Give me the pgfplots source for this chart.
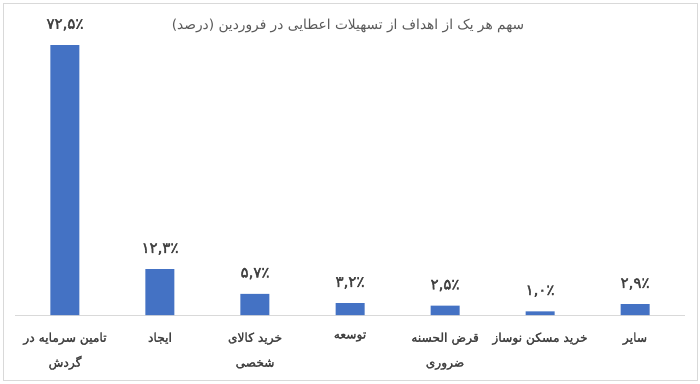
\documentclass[border=0pt]{standalone}
\usepackage{fontspec}
\usepackage{pgfplots}
\usepackage{pgfplotstable}
\pgfplotsset{compat=1.18}
\TeXXeTstate=1
\newfontfamily\arabicfont[Script=Arabic]{DejaVu Sans}
\newfontfamily\arabicbold[Script=Arabic,FakeBold=2]{DejaVu Sans}
\newfontfamily\arabicbolder[Script=Arabic,FakeBold=2.5]{DejaVu Sans}
\definecolor{barblue}{HTML}{4472C4}
\definecolor{txtgray}{HTML}{404040}
\definecolor{titlegray}{HTML}{595959}
\definecolor{bordergray}{HTML}{D9D9D9}
\pgfplotstableread{
x y lab
0 72.5 ۷۲,۵٪
1 12.3 ۱۲,۳٪
2 5.7 ۵,۷٪
3 3.2 ۳,۲٪
4 2.5 ۲,۵٪
5 1.0 ۱,۰٪
6 2.9 ۲,۹٪
}\datatable
\begin{document}
\begin{tikzpicture}[x=1bp,y=1bp]
\fill[white] (0,0) rectangle (700,383);
\draw[bordergray,line width=0.8bp] (3,3) rectangle (697,380);
\node[font=\arabicfont\fontsize{13.8}{15}\selectfont,text=titlegray] at (348,357) {\beginR سهم هر یک از اهداف از تسهیلات اعطایی در فروردین (درصد)\endR};
\begin{axis}[
  at={(15bp,68bp)}, anchor=south west,
  scale only axis, width=670bp, height=297.9bp,
  xmin=-0.526, xmax=6.526, ymin=0, ymax=80,
  axis x line*=bottom, axis y line=none,
  x axis line style={draw=bordergray,line width=1bp,-},
  xtick=data, major tick length=0pt,
  xticklabels={{\beginR تامین سرمایه در\endR\\\beginR گردش\endR},{\beginR ایجاد\endR},{\beginR خرید کالای\endR\\\beginR شخصی\endR},{\beginR توسعه\endR},{\beginR قرض الحسنه\endR\\\beginR ضروری\endR},{\beginR خرید مسکن نوساز\endR},{\beginR سایر\endR}},
  xticklabel style={font=\arabicbold\fontsize{12.3}{25}\selectfont,text=txtgray,align=center,yshift=-14bp},
  ybar, bar width=29bp,
  nodes near coords,
  point meta=explicit symbolic,
  every node near coord/.append style={font=\arabicbolder\fontsize{15}{16}\selectfont,text=txtgray,yshift=11bp},
  clip=false,
]
\addplot[fill=barblue,draw=none] table[x=x,y=y,meta=lab]{\datatable};
\end{axis}
\end{tikzpicture}
\end{document}
